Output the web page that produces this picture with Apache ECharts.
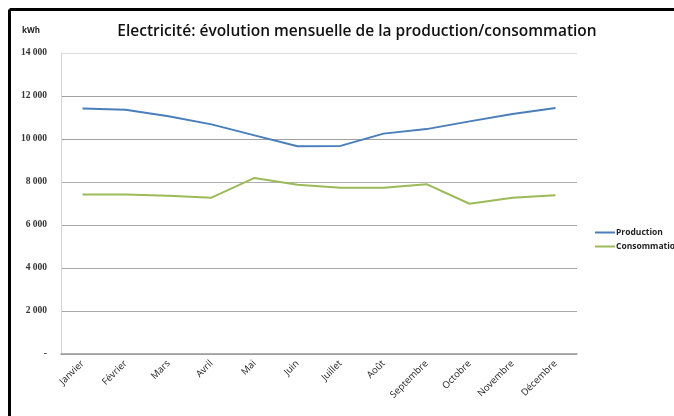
<!DOCTYPE html>
<html>
<head>
<meta charset="utf-8">
<script src="https://cdn.jsdelivr.net/npm/echarts@6/dist/echarts.min.js"></script>
<style>
html,body{margin:0;padding:0;background:#fff;}
#c{width:674px;height:416px;}
</style>
</head>
<body>
<div id="c"></div>
<script>
const months = ['Janvier','Février','Mars','Avril','Mai','Juin','Juillet','Août','Septembre','Octobre','Novembre','Décembre'];
const production = [11420, 11360, 11060, 10680, 10170, 9660, 9680, 10250, 10460, 10820, 11160, 11440];
const consommation = [7420, 7420, 7360, 7270, 8190, 7870, 7730, 7730, 7900, 6990, 7270, 7380];
const yTicks = [0, 2000, 4000, 6000, 8000, 10000, 12000, 14000];

const chart = echarts.init(document.getElementById('c'), null, {renderer:'canvas'});
function fmt(v){
  if (v === 0) return '-';
  const s = String(v);
  return s.slice(0, s.length-3) + ' ' + s.slice(s.length-3);
}
chart.setOption({
  animation:false,
  backgroundColor:'#fff',
  graphic:[
    {type:'line', shape:{x1:9.5, y1:9.5, x2:674, y2:9.5}, style:{stroke:'#000', lineWidth:3}},
    {type:'line', shape:{x1:9.5, y1:9.5, x2:9.5, y2:416}, style:{stroke:'#000', lineWidth:3}},
    {type:'text', left:22, top:27, style:{text:'kWh', font:'bold 8px "Open Sans"', fill:'#222'}}
  ],
  title:{
    text:'Electricité: évolution mensuelle de la production/consommation',
    left:352, textAlign:'center', top:19,
    textStyle:{fontFamily:'Open Sans', fontWeight:600, fontSize:15.5, color:'#111'}
  },
  legend:{
    orient:'vertical', left:590, top:223,
    itemWidth:20, itemHeight:2, itemGap:5, icon:'rect',
    textStyle:{fontFamily:'Open Sans', fontWeight:'bold', fontSize:8.5, color:'#222', padding:[0,0,0,-4]},
    data:['Production','Consommation']
  },
  grid:{left:61, right:97, top:53, bottom:62},
  xAxis:{
    type:'category', data:months, boundaryGap:true,
    axisLine:{lineStyle:{color:'#999', width:1.5}},
    axisTick:{show:false},
    axisLabel:{rotate:45, interval:0, fontFamily:'Open Sans', fontSize:9.5, color:'#222', margin:8}
  },
  yAxis:{
    type:'value', min:0, max:14000, interval:2000,
    axisLine:{show:true, lineStyle:{color:'#d4d4d4'}},
    axisTick:{show:false},
    axisLabel:{formatter:fmt, fontFamily:'Liberation Serif', fontWeight:'bold', fontSize:9.5, color:'#333', margin:14},
    splitLine:{lineStyle:{color:['#a8a8a8','#a8a8a8','#a8a8a8','#a8a8a8','#b0b0b0','#a0a0a0','#a0a0a0','#dcdcdc']}}
  },
  series:[
    {name:'Production', type:'line', data:production, symbol:'none', lineStyle:{color:'#4a7ebb', width:2}, itemStyle:{color:'#4a7ebb'}},
    {name:'Consommation', type:'line', data:consommation, symbol:'none', lineStyle:{color:'#9bbb59', width:2}, itemStyle:{color:'#9bbb59'}}
  ]
});
</script>
</body>
</html>
